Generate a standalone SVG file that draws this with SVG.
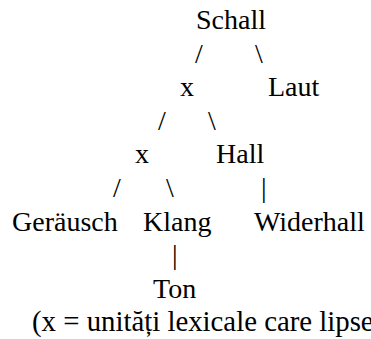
<svg xmlns="http://www.w3.org/2000/svg" width="371" height="339" viewBox="0 0 371 339">
<style>
text{font-family:"Liberation Serif","Times New Roman",serif;font-size:28px;fill:#000}
</style>
<rect width="371" height="339" fill="#fff"/>
<g id="connectors">
<text x="195" y="62.6">/</text>
<text x="255" y="62.6">\</text>
<text x="158" y="129.8">/</text>
<text x="208" y="129.8">\</text>
<text x="113" y="197">/</text>
<text x="166" y="197">\</text>
<text x="261" y="197">|</text>
<text x="172" y="264.2">|</text>
</g>
<g id="n-schall"><text x="196" y="29">Schall</text></g>
<g id="n-x1"><text x="180" y="96.2">x</text></g>
<g id="n-laut"><text x="268" y="96.2">Laut</text></g>
<g id="n-x2"><text x="135" y="163.4">x</text></g>
<g id="n-hall"><text x="216" y="163.4">Hall</text></g>
<g id="n-gerausch"><text x="12" y="230.6">Geräusch</text></g>
<g id="n-klang"><text x="143" y="230.6">Klang</text></g>
<g id="n-widerhall"><text x="254" y="230.6">Widerhall</text></g>
<g id="n-ton"><text x="153" y="297.8">Ton</text></g>
<g id="note"><text x="32" y="331.4" style="font-size:28.8px">(x = unități lexicale care lipsesc)</text></g>
</svg>
